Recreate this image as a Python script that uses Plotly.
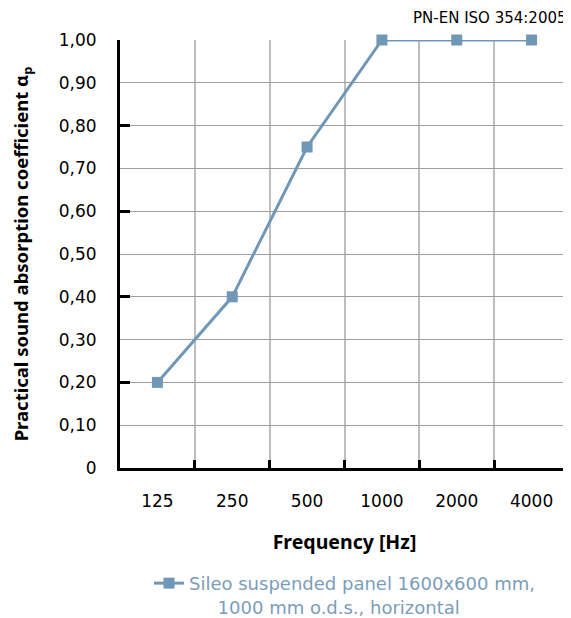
import plotly.graph_objects as go

categories = ["125", "250", "500", "1000", "2000", "4000"]
values = [0.20, 0.40, 0.75, 1.00, 1.00, 1.00]
y_tickvals = [0, 0.1, 0.2, 0.3, 0.4, 0.5, 0.6, 0.7, 0.8, 0.9, 1.0]
y_ticktext = ["0", "0,10", "0,20", "0,30", "0,40", "0,50", "0,60", "0,70", "0,80", "0,90", "1,00"]
series_name = "Sileo suspended panel 1600x600 mm,<br>" + "&nbsp;" * 5 + "1000 mm o.d.s., horizontal"
standard = "PN-EN ISO 354:2005"

LINE = "#7097b5"
TFONT = "DejaVu Sans"
BFONT = "Noto Sans"

fig = go.Figure()
fig.add_trace(go.Scatter(
    x=categories, y=values, mode="lines+markers", name=series_name,
    line=dict(color=LINE, width=3),
    marker=dict(symbol="square", size=11, color=LINE),
    cliponaxis=False,
))
# overlay axis carrying the major tick marks every 0.2
fig.add_trace(go.Scatter(x=categories, y=values, yaxis="y2", mode="none",
                         showlegend=False, hoverinfo="skip"))

# the page body adds an 8px offset, so the figure is 8px smaller and margins compensate
fig.update_layout(
    width=563, height=610,
    margin=dict(l=112, r=2, t=32, b=150, autoexpand=False),
    paper_bgcolor="white", plot_bgcolor="white",
    font=dict(family=TFONT, size=17, color="black"),
    xaxis=dict(
        type="category", range=[-0.5, 5.5], tickson="boundaries",
        automargin=False,
        showgrid=True, gridcolor="#bdbdbd", gridwidth=1.5,
        ticks="inside", ticklen=8, tickwidth=3, tickcolor="black",
        showline=True, linecolor="black", linewidth=3,
        tickfont=dict(family=TFONT, size=17, color="black"),
        ticklabelstandoff=16,
        title=dict(text="<b>Frequency [Hz]</b>", standoff=25,
                   font=dict(family=BFONT, size=19.5, color="black")),
        zeroline=False,
    ),
    yaxis=dict(
        range=[0, 1.0], tickvals=y_tickvals, ticktext=y_ticktext,
        automargin=False,
        showgrid=True, gridcolor="#9e9e9e", gridwidth=1.2,
        ticks="", showline=True, linecolor="black", linewidth=3,
        tickfont=dict(family=TFONT, size=17, color="black"),
        ticklabelstandoff=17,
        title=dict(text="<b>Practical sound absorption coefficient α<sub>p</sub></b>", standoff=30,
                   font=dict(family=BFONT, size=18.5, color="black")),
        zeroline=False,
    ),
    yaxis2=dict(
        overlaying="y", side="left", range=[0, 1.0], dtick=0.2,
        automargin=False,
        showgrid=False, showticklabels=False, ticks="inside",
        ticklen=10, tickwidth=3, tickcolor="black", zeroline=False,
    ),
    legend=dict(
        orientation="h", x=0.5, xanchor="center",
        yref="container", y=0.087, yanchor="top",
        valign="top",
        font=dict(family=TFONT, size=18, color="#7b9dba"),
    ),
    annotations=[dict(
        text=standard, xref="paper", yref="paper", x=1, y=1, xanchor="right",
        yanchor="bottom", yshift=11, showarrow=False,
        font=dict(family=TFONT, size=15, color="black"),
    )],
)

fig.write_html("out.html")
